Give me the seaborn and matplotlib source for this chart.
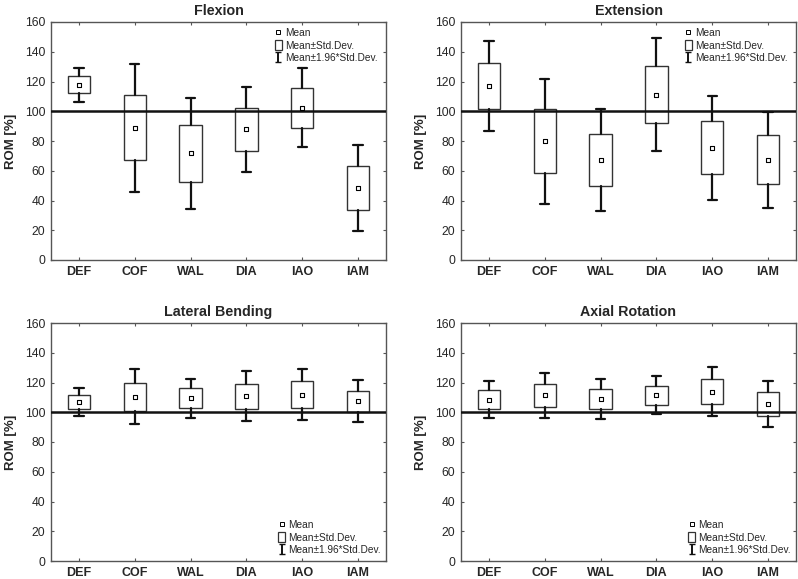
import numpy as np
import pandas as pd
import matplotlib
matplotlib.use("Agg")
import matplotlib.pyplot as plt
import matplotlib.patches as mpatches
from matplotlib.lines import Line2D
import seaborn as sns

# categories on the x axis
groups = ["DEF", "COF", "WAL", "DIA", "IAO", "IAM"]

# mean and standard deviation of ROM [%] per motion
flexion_mean = [117.8, 88.9, 71.8, 87.9, 102.4, 48.3]
flexion_sd = [5.75, 22.0, 19.1, 14.5, 13.5, 14.7]

extension_mean = [116.8, 79.8, 67.0, 111.2, 75.4, 67.4]
extension_sd = [15.5, 21.4, 17.5, 19.3, 17.8, 16.4]

lateral_mean = [107.1, 110.5, 109.3, 110.7, 111.9, 107.4]
lateral_sd = [4.8, 9.45, 6.7, 8.6, 8.9, 7.2]

axial_mean = [108.5, 111.4, 108.8, 111.3, 113.9, 105.5]
axial_sd = [6.4, 7.8, 6.8, 6.5, 8.35, 8.0]

panels = [
    ("Flexion", flexion_mean, flexion_sd, "upper right"),
    ("Extension", extension_mean, extension_sd, "upper right"),
    ("Lateral Bending", lateral_mean, lateral_sd, "lower right"),
    ("Axial Rotation", axial_mean, axial_sd, "lower right"),
]

sns.set_style("ticks")
plt.rcParams["font.family"] = ["Liberation Sans", "DejaVu Sans"]

fig = plt.figure(figsize=(7.98, 5.79), dpi=100)
W, H = 798, 579
boxes_px = [(51, 22), (461, 22), (51, 323), (461, 323)]  # left, top in pixels
ax_w, ax_h = 335, 238

edge = "#333333"

for (title, mean, sd, loc), (lx, ty) in zip(panels, boxes_px):
    ax = fig.add_axes([lx / W, 1 - (ty + ax_h) / H, ax_w / W, ax_h / H])
    df = pd.DataFrame({"group": groups, "mean": mean, "sd": sd})
    df["pos"] = np.arange(len(groups))

    # box = mean +/- SD, whiskers = mean +/- 1.96 SD
    stats = []
    for _, r in df.iterrows():
        stats.append({
            "med": r["mean"],
            "q1": r["mean"] - r["sd"],
            "q3": r["mean"] + r["sd"],
            "whislo": r["mean"] - 1.96 * r["sd"],
            "whishi": r["mean"] + 1.96 * r["sd"],
        })

    ax.bxp(stats, positions=df["pos"], widths=0.4, showfliers=False,
           patch_artist=True, capwidths=0.17,
           boxprops=dict(facecolor="white", edgecolor=edge, linewidth=1.0),
           whiskerprops=dict(color="#111111", linewidth=1.6),
           capprops=dict(color="#111111", linewidth=1.6),
           medianprops=dict(linewidth=0))

    ax.axhline(100, color="#111111", linewidth=1.8, zorder=4)

    sns.scatterplot(data=df, x="pos", y="mean", ax=ax, marker="s", s=7,
                    facecolor="white", edgecolor="black", linewidth=0.8,
                    zorder=6, legend=False)

    ax.set_xlim(-0.5, len(groups) - 0.5)
    ax.set_ylim(0, 160)
    ax.set_yticks(np.arange(0, 161, 20))
    ax.set_xticks(df["pos"])
    ax.set_xticklabels(groups, fontsize=9, fontweight="bold")
    ax.tick_params(axis="y", labelsize=8.7)
    ax.tick_params(direction="in", length=2.5, width=0.8, top=True,
                   right=True, color="#555555", pad=4)
    ax.set_xlabel("")
    ax.set_ylabel("ROM [%]", fontsize=9.5, fontweight="bold", labelpad=6)
    ax.set_title(title, fontsize=10.3, fontweight="bold", pad=5)
    for s in ax.spines.values():
        s.set_color("#555555")
        s.set_linewidth(1.0)

    # legend handles
    h_mean = Line2D([], [], marker="s", ls="none", mfc="white", mec="black",
                    ms=2.8, mew=0.7)
    h_box = mpatches.Patch(facecolor="white", edgecolor=edge, linewidth=0.9)
    h_err = ax.errorbar([np.nan], [np.nan], yerr=[1], fmt="none",
                        ecolor="#111111", elinewidth=1.4, capsize=2.5)
    if loc == "upper right":
        anchor = (0.975, 0.975)
    else:
        anchor = (0.985, 0.025)
    ax.legend([h_mean, h_box, h_err],
              ["Mean", "Mean\u00b1Std.Dev.", "Mean\u00b11.96*Std.Dev."],
              loc=loc, bbox_to_anchor=anchor, frameon=False, fontsize=7.3,
              handlelength=0.7, handleheight=1.1, handletextpad=0.3,
              labelspacing=0.2, borderpad=0, borderaxespad=0)

fig.savefig("out.png", dpi=100)
